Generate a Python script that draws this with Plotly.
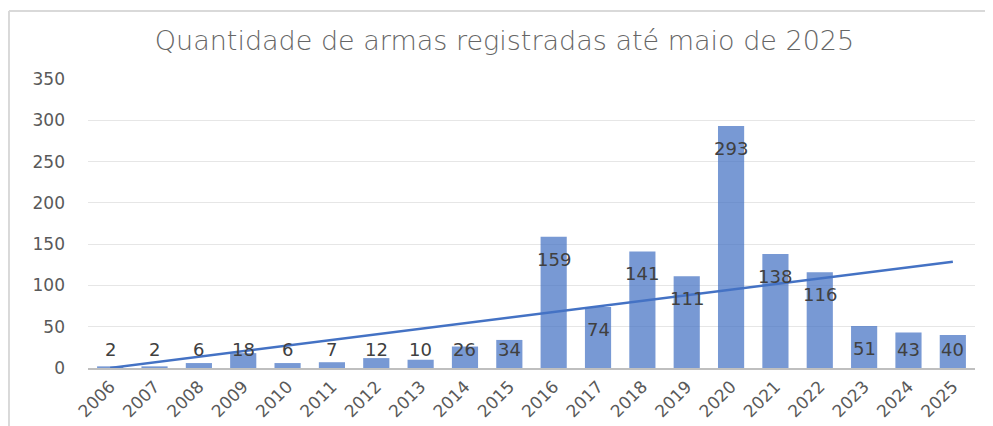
import plotly.graph_objects as go
import numpy as np

years = ["2006", "2007", "2008", "2009", "2010", "2011", "2012", "2013", "2014", "2015",
         "2016", "2017", "2018", "2019", "2020", "2021", "2022", "2023", "2024", "2025"]
values = [2, 2, 6, 18, 6, 7, 12, 10, 26, 34, 159, 74, 141, 111, 293, 138, 116, 51, 43, 40]
y_ticks = [0, 50, 100, 150, 200, 250, 300, 350]
title_text = "Quantidade de armas registradas até maio de 2025"

# Linear trendline (least squares, like Excel's trendline)
xi = np.arange(1, len(values) + 1)
slope, intercept = np.polyfit(xi, values, 1)
trend = slope * xi + intercept

BAR_COLOR = "rgba(68,114,196,0.72)"
LINE_COLOR = "#4472C4"
TEXT_COLOR = "#404040"
FONT = "DejaVu Sans"

fig = go.Figure()
fig.add_trace(go.Bar(x=years, y=values, marker=dict(color=BAR_COLOR, line=dict(width=0)),
                     hoverinfo="x+y", showlegend=False))
fig.add_trace(go.Scatter(x=years, y=trend, mode="lines",
                         line=dict(color=LINE_COLOR, width=2.5), showlegend=False,
                         hoverinfo="skip"))

# Data labels: "inside end", clamped above baseline for short bars
for i, v in enumerate(values):
    fig.add_annotation(x=i, y=max(v - 27, 22), text=str(v), showarrow=False,
                       xref="x", yref="y", yanchor="middle",
                       font=dict(family=FONT, size=18, color=TEXT_COLOR))

# chart-area border (partially visible)
fig.add_shape(type="line", xref="paper", yref="paper", x0=-0.0891, x1=-0.0891, y0=-0.3, y1=1.2353,
              line=dict(color="#d9d9d9", width=2))
fig.add_shape(type="line", xref="paper", yref="paper", x0=-0.0891, x1=1.05, y0=1.2353, y1=1.2353,
              line=dict(color="#d9d9d9", width=2))

fig.update_layout(
    width=993, height=426,
    margin=dict(l=80, r=26, t=71, b=66, autoexpand=False),
    paper_bgcolor="white", plot_bgcolor="white",
    bargap=0.41,
    title=dict(text=title_text, x=0.5, xanchor="center", y=0.9225, yanchor="middle",
               font=dict(family=FONT, size=27, color="#666666", weight=300)),
    xaxis=dict(type="category", tickangle=-45, showgrid=False, ticks="",
               range=[-0.5, len(years) - 0.5],
               tickfont=dict(family=FONT, size=17, color="#595959"),
               showline=True, linecolor="#bfbfbf", linewidth=2),
    yaxis=dict(range=[0, 350], tickvals=y_ticks, showgrid=True, gridcolor="#e6e6e6",
               gridwidth=1, zeroline=False, showline=False, ticks="",
               ticklabelstandoff=22,
               tickfont=dict(family=FONT, size=17, color="#595959")),
)

fig.write_html("out.html")
